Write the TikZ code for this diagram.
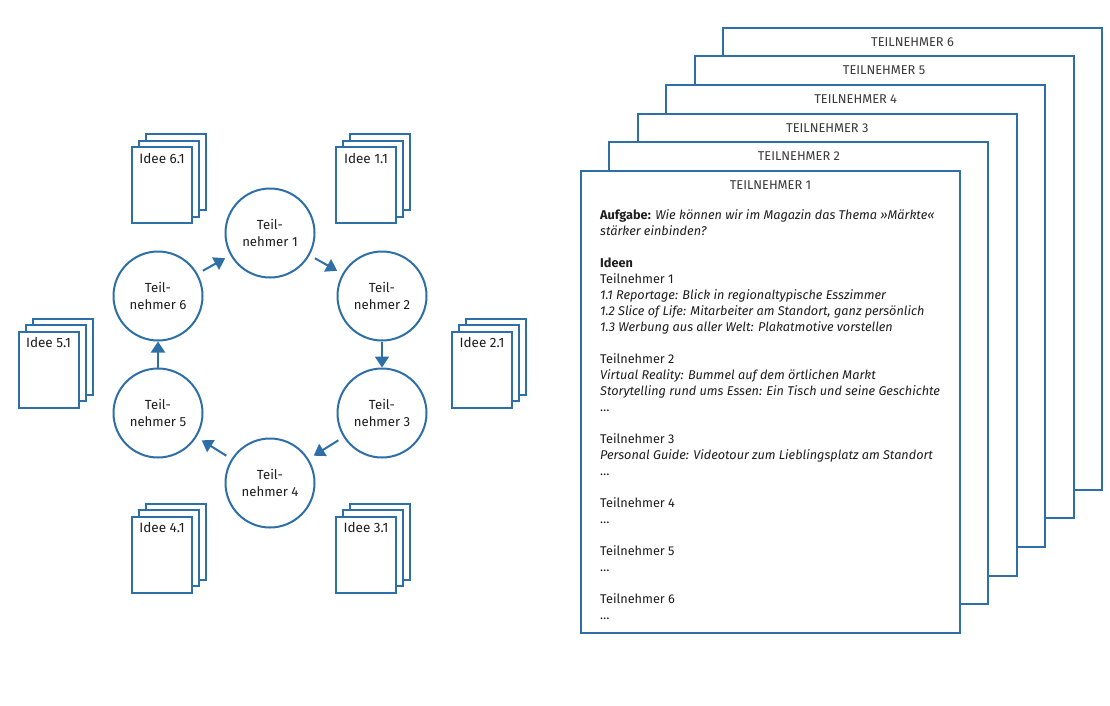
\documentclass[tikz,border=0pt]{standalone}
\usepackage{fontspec}
\setmainfont{Fira Sans}
\usetikzlibrary{arrows.meta,positioning,calc}

\definecolor{mblue}{HTML}{2E6FA7}
\definecolor{mtext}{HTML}{1E1E1E}
\definecolor{mgray}{HTML}{3A3A3A}

\tikzset{
  person/.style={circle, draw=mblue, line width=2pt, fill=white,
    minimum size=89pt, inner sep=0pt, align=center, text=mtext,
    font=\fontsize{13.2}{16.5}\selectfont},
  flow/.style={mblue, line width=2pt,
    -{Triangle[length=11pt,width=14pt,fill=mblue]}},
  gap/.style={shorten <=6pt, shorten >=6pt},
  page/.style={rectangle, draw=mblue, line width=2pt, fill=white,
    minimum width=60pt, minimum height=76pt, inner sep=0pt},
  sheet/.style={rectangle, draw=mblue, line width=2pt, fill=white,
    minimum width=379pt, minimum height=462pt, inner sep=0pt},
}

% stack of three idea pages: name, position of front page, label
\newcommand{\ideestack}[3]{
  \node[page] at ($(#2)+(14,-13)$) {};
  \node[page] at ($(#2)+(7,-6.5)$) {};
  \node[page, label={[anchor=base, yshift=-17pt, text=mtext,
      font=\fontsize{13.5}{15}\selectfont]north:#3}] (#1) at (#2) {};
}

\begin{document}
\begin{tikzpicture}[x=1pt, y=-1pt]
  \useasboundingbox (0,0) rectangle (1110,705);

  % participants in a ring
  \node[person] (t1) at (270,233) {Teil-\\nehmer 1};
  \node[person] (t2) at (382,296) {Teil-\\nehmer 2};
  \node[person] (t3) at (382,413) {Teil-\\nehmer 3};
  \node[person] (t4) at (270,483) {Teil-\\nehmer 4};
  \node[person] (t5) at (158,413) {Teil-\\nehmer 5};
  \node[person] (t6) at (158,296) {Teil-\\nehmer 6};

  \draw[flow, gap] (t1) -- (t2);
  \draw[flow] (t2) -- (t3);
  \draw[flow, gap] (t3) -- (t4);
  \draw[flow, gap] (t4) -- (t5);
  \draw[flow] (t5) -- (t6);
  \draw[flow, gap] (t6) -- (t1);

  % idea pages
  \ideestack{i6}{162,185}{Idee 6.1}
  \ideestack{i1}{366,185}{Idee 1.1}
  \ideestack{i2}{482,369.5}{Idee 2.1}
  \ideestack{i5}{48.5,369.5}{Idee 5.1}
  \ideestack{i3}{366,554.5}{Idee 3.1}
  \ideestack{i4}{162,554.5}{Idee 4.1}

  % sheets of the participants
  \foreach \i in {6,5,...,1}{
    \node[sheet, label={[anchor=base, yshift=-19.5pt, text=mgray,
        font=\fontsize{12.8}{14}\selectfont]north:TEILNEHMER \i}]
      (s\i) at ({770.5+28.4*(\i-1)},{402-28.7*(\i-1)}) {};
  }

  \node[anchor=north west, align=left, inner sep=0pt, text=mtext,
    font=\fontsize{12.7}{16}\selectfont] (ideen) at (600,209) {%
    \textbf{Aufgabe:} \textit{Wie können wir im Magazin das Thema »Märkte«}\\
    \textit{stärker einbinden?}\\
    ~\\
    \textbf{Ideen}\\
    Teilnehmer 1\\
    \textit{1.1 Reportage: Blick in regionaltypische Esszimmer}\\
    \textit{1.2 Slice of Life: Mitarbeiter am Standort, ganz persönlich}\\
    \textit{1.3 Werbung aus aller Welt: Plakatmotive vorstellen}\\
    ~\\
    Teilnehmer 2\\
    \textit{Virtual Reality: Bummel auf dem örtlichen Markt}\\
    \textit{Storytelling rund ums Essen: Ein Tisch und seine Geschichte}\\
    \dots\\
    ~\\
    Teilnehmer 3\\
    \textit{Personal Guide: Videotour zum Lieblingsplatz am Standort}\\
    \dots\\
    ~\\
    Teilnehmer 4\\
    \dots\\
    ~\\
    Teilnehmer 5\\
    \dots\\
    ~\\
    Teilnehmer 6\\
    \dots};
\end{tikzpicture}
\end{document}
